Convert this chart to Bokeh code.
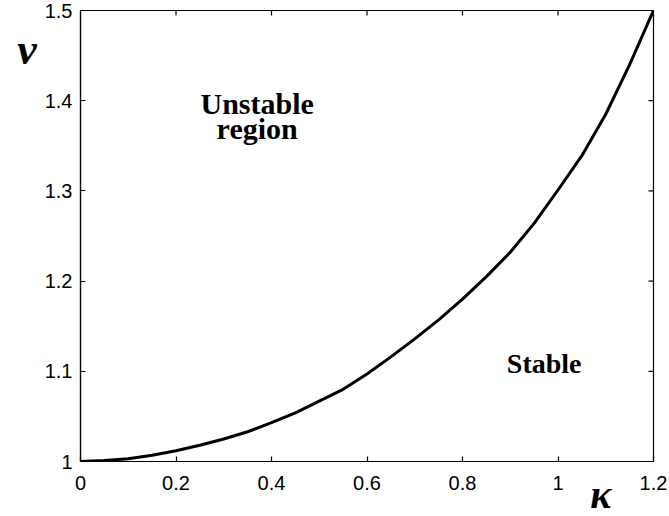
from bokeh.plotting import figure
from bokeh.models import Range1d, Label, FixedTicker, Title
from bokeh.embed import file_html
from bokeh.resources import INLINE

# Stability boundary nu(kappa)
kappa = [0.0, 0.05, 0.1, 0.15, 0.2, 0.25, 0.3, 0.35, 0.4, 0.45, 0.5, 0.55, 0.6,
         0.65, 0.7, 0.75, 0.8, 0.85, 0.9, 0.95, 1.0, 1.05, 1.1, 1.15, 1.2]
nu = [1.000, 1.001, 1.003, 1.007, 1.012, 1.018, 1.025, 1.033, 1.043, 1.054, 1.067,
      1.080, 1.097, 1.116, 1.136, 1.157, 1.180, 1.205, 1.232, 1.264, 1.301, 1.339,
      1.385, 1.440, 1.500]

x_ticks = [0, 0.2, 0.4, 0.6, 0.8, 1.0, 1.2]
x_tick_labels = ["0", "0.2", "0.4", "0.6", "0.8", "1", "1.2"]
y_ticks = [1.0, 1.1, 1.2, 1.3, 1.4, 1.5]
y_tick_labels = ["1", "1.1", "1.2", "1.3", "1.4", "1.5"]

X0, X1, Y0, Y1 = 0.0, 1.2, 1.0, 1.5
W, H = 668, 516
BL, BR, BT, BB = 80, 15, 10, 55
FW, FH = W - BL - BR, H - BT - BB
TICK = 5

p = figure(width=W, height=H, x_range=Range1d(X0, X1), y_range=Range1d(Y0, Y1),
           output_backend="svg", toolbar_location=None,
           min_border_left=BL, min_border_right=BR, min_border_top=BT, min_border_bottom=BB)
p.xgrid.visible = False
p.ygrid.visible = False
p.background_fill_color = "white"
p.border_fill_color = "white"
p.outline_line_color = "black"
p.outline_line_width = 1.2

def style(ax, ticks, labels, standoff):
    ax.ticker = FixedTicker(ticks=ticks)
    ax.major_label_overrides = {t: l for t, l in zip(ticks, labels)}
    ax.minor_tick_line_color = None
    ax.major_tick_in = TICK
    ax.major_tick_out = 0
    ax.major_tick_line_color = "black"
    ax.major_tick_line_width = 1.2
    ax.axis_line_color = "black"
    ax.axis_line_width = 1.2
    ax.major_label_text_font = "Liberation Sans"
    ax.major_label_text_font_size = "20px"
    ax.major_label_text_color = "black"
    ax.major_label_standoff = standoff

style(p.xaxis[0], x_ticks, x_tick_labels, 14)
style(p.yaxis[0], y_ticks, y_tick_labels, 8)

# nu: y-axis name, pushed to the top of the axis with trailing empty lines
ya = p.yaxis[0]
ya.axis_label = "ν" + "\n" * 6
ya.axis_label_orientation = "horizontal"
ya.axis_label_standoff = 5
ya.axis_label_text_font = "Liberation Serif"
ya.axis_label_text_font_style = "bold italic"
ya.axis_label_text_font_size = "44px"
ya.axis_label_text_line_height = 1.27
ya.axis_label_text_color = "black"

# kappa: placed at the right end under the x axis
p.add_layout(Title(text="κ", align="right", offset=42, standoff=-48,
                   text_font="Liberation Serif", text_font_style="bold italic",
                   text_font_size="40px", text_color="black"), "below")

# inward ticks on top and right edges of the box
dx = TICK * (X1 - X0) / FW
dy = TICK * (Y1 - Y0) / FH
p.segment(x0=x_ticks, y0=[Y1] * len(x_ticks), x1=x_ticks, y1=[Y1 - dy] * len(x_ticks),
          line_color="black", line_width=1.2)
p.segment(x0=[X1] * len(y_ticks), y0=y_ticks, x1=[X1 - dx] * len(y_ticks), y1=y_ticks,
          line_color="black", line_width=1.2)

p.line(kappa, nu, line_color="black", line_width=3)

p.add_layout(Label(x=0.37, y=1.397, text="Unstable", text_font="Liberation Serif",
                   text_font_style="bold", text_font_size="30px",
                   text_align="center", text_baseline="alphabetic", text_color="black"))
p.add_layout(Label(x=0.37, y=1.369, text="region", text_font="Liberation Serif",
                   text_font_style="bold", text_font_size="30px",
                   text_align="center", text_baseline="alphabetic", text_color="black"))
p.add_layout(Label(x=0.971, y=1.109, text="Stable", text_font="Liberation Serif",
                   text_font_style="bold", text_font_size="28px",
                   text_align="center", text_baseline="alphabetic", text_color="black"))

open("out.html", "w").write(file_html(p, INLINE))
